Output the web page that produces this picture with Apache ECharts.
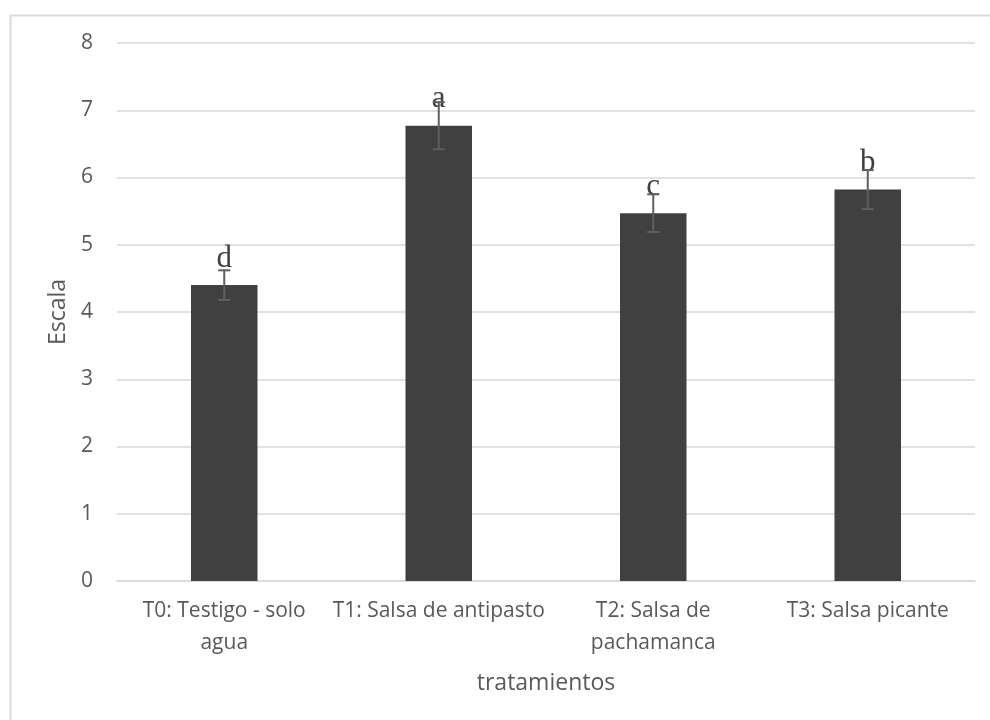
<!DOCTYPE html>
<html>
<head>
<meta charset="utf-8">
<script src="https://cdn.jsdelivr.net/npm/echarts@6/dist/echarts.min.js"></script>
<style>
  html, body { margin: 0; padding: 0; background: #ffffff; }
  #chart { width: 990px; height: 720px; }
</style>
</head>
<body>
<div id="chart"></div>
<script>
// Treatments (category labels, wrapped as shown on the axis)
var categories = [
  'T0: Testigo - solo\nagua',
  'T1: Salsa de antipasto',
  'T2: Salsa de\npachamanca',
  'T3: Salsa picante'
];
// Mean score per treatment
var means = [4.40, 6.77, 5.47, 5.82];
// Error (± half-length of the error bar)
var errors = [0.22, 0.35, 0.28, 0.29];
// Significance group letters
var letters = ['d', 'a', 'c', 'b'];
// Y axis scale
var yMin = 0, yMax = 8, yStep = 1;

var textColor = '#595959';
var gridColor = '#d9d9d9';
var sansFont = '"Open Sans", sans-serif';

var errorData = means.map(function (m, i) { return [i, m - errors[i], m + errors[i]]; });

var chart = echarts.init(document.getElementById('chart'), null, { renderer: 'canvas' });

chart.setOption({
  animation: false,
  backgroundColor: '#ffffff',
  graphic: [{
    type: 'rect',
    left: 8, top: 13,
    shape: { x: 0, y: 0, width: 1000, height: 720 },
    style: { fill: 'none', stroke: gridColor, lineWidth: 2 },
    z: -10
  }],
  grid: { left: 117, right: 15, top: 43, bottom: 139, containLabel: false },
  xAxis: {
    type: 'category',
    data: categories,
    name: 'tratamientos',
    nameLocation: 'middle',
    nameGap: 91,
    nameTextStyle: { color: textColor, fontFamily: sansFont, fontSize: 23 },
    axisLine: { lineStyle: { color: gridColor, width: 1.5 } },
    axisTick: { show: false },
    axisLabel: {
      color: textColor, fontFamily: sansFont, fontSize: 21,
      lineHeight: 32, margin: 14, interval: 0
    }
  },
  yAxis: {
    type: 'value',
    min: yMin, max: yMax, interval: yStep,
    name: 'Escala',
    nameLocation: 'middle',
    nameGap: 43,
    nameTextStyle: { color: textColor, fontFamily: sansFont, fontSize: 23 },
    axisLine: { show: false },
    axisTick: { show: false },
    axisLabel: { color: textColor, fontFamily: sansFont, fontSize: 21, margin: 24 },
    splitLine: { lineStyle: { color: gridColor, width: 1.5 } }
  },
  series: [
    {
      type: 'bar',
      data: means,
      barWidth: '31%',
      itemStyle: { color: '#404040' },
      label: {
        show: true,
        position: 'top',
        distance: 11,
        formatter: function (p) { return letters[p.dataIndex]; },
        color: '#404040',
        fontFamily: '"Liberation Serif", "DejaVu Serif", serif',
        fontSize: 31
      },
      z: 2
    },
    {
      type: 'custom',
      data: errorData,
      z: 3,
      renderItem: function (params, api) {
        var x = api.value(0);
        var lo = api.coord([x, api.value(1)]);
        var hi = api.coord([x, api.value(2)]);
        var half = 6;
        var style = { stroke: '#5f5f5f', lineWidth: 2 };
        return {
          type: 'group',
          children: [
            { type: 'line', shape: { x1: lo[0], y1: lo[1], x2: hi[0], y2: hi[1] }, style: style },
            { type: 'line', shape: { x1: lo[0] - half, y1: lo[1], x2: lo[0] + half, y2: lo[1] }, style: style },
            { type: 'line', shape: { x1: hi[0] - half, y1: hi[1], x2: hi[0] + half, y2: hi[1] }, style: style }
          ]
        };
      }
    }
  ]
});
</script>
</body>
</html>
